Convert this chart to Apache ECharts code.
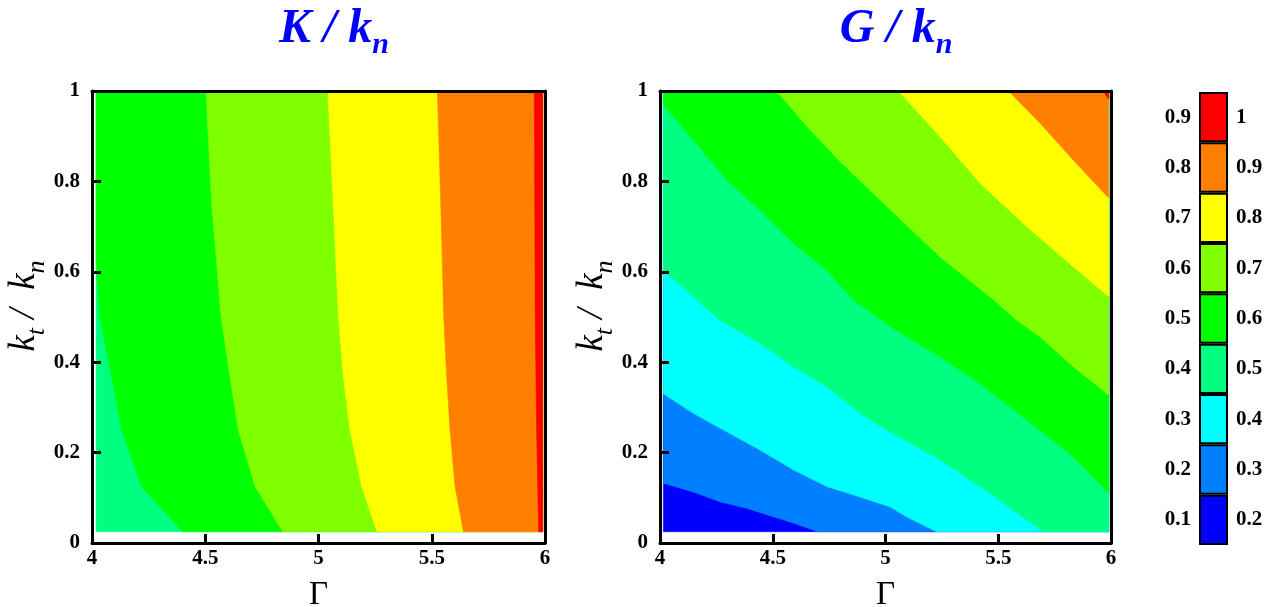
<!DOCTYPE html>
<html><head><meta charset="utf-8">
<script src="https://cdn.jsdelivr.net/npm/echarts@6/dist/echarts.min.js"></script>
<style>html,body{margin:0;padding:0;background:#fff}#c{width:1270px;height:607px}</style>
</head><body><div id="c"></div>
<script>
// ---- data ----
const levelLow = ['0.1','0.2','0.3','0.4','0.5','0.6','0.7','0.8','0.9'];
const levelHigh = ['0.2','0.3','0.4','0.5','0.6','0.7','0.8','0.9','1'];
const levelColors = ['#0000FF','#0080FF','#00FFFF','#00FF80','#00FF00','#80FF00','#FFFF00','#FF8000','#FF0000'];
const xTickRange = [4, 6, 0.5];
const yTickRange = [0, 1, 0.2];

// data extent of the contour field
const fieldK = {xMin: 4.018, xMax: 5.99, yMin: 0.025, yMax: 1};
const fieldG = {xMin: 4.015, xMax: 5.99, yMin: 0.025, yMax: 1};

// K/kn: lowest band index 3 (0.4-0.5); contour lines (level boundaries) as [Gamma, kt/kn]
const kBaseBand = 3;
const kLine05 = [[4.400,0.025],[4.219,0.125],[4.131,0.25],[4.087,0.368],[4.035,0.5],[4.018,0.62]];
const kLine06 = [[4.842,0.025],[4.720,0.125],[4.646,0.25],[4.609,0.368],[4.570,0.5],[4.528,0.752],[4.503,1]];
const kLine07 = [[5.258,0.025],[5.191,0.125],[5.139,0.25],[5.110,0.368],[5.088,0.5],[5.065,0.75],[5.041,1]];
const kLine08 = [[5.640,0.025],[5.603,0.125],[5.581,0.25],[5.566,0.368],[5.553,0.5],[5.540,0.75],[5.525,1]];
const kLine09 = [[5.972,0.025],[5.963,0.25],[5.957,0.5],[5.955,0.75],[5.953,1]];

// G/kn: lowest band index 0 (0.1-0.2)
const gBaseBand = 0;
const gLine02 = [[4.015,0.132],[4.148,0.113],[4.266,0.091],[4.384,0.077],[4.502,0.058],[4.591,0.044],[4.702,0.025]];
const gLine03 = [[4.015,0.330],[4.148,0.287],[4.296,0.246],[4.443,0.206],[4.591,0.162],[4.739,0.125],[4.887,0.102],[5.020,0.080],[5.094,0.058],[5.227,0.025]];
const gLine04 = [[4.015,0.604],[4.148,0.545],[4.266,0.493],[4.443,0.442],[4.591,0.390],[4.739,0.346],[4.887,0.287],[5.005,0.250],[5.242,0.184],[5.463,0.110],[5.700,0.025]];
const gLine05 = [[4.015,0.969],[4.148,0.892],[4.296,0.803],[4.443,0.737],[4.591,0.663],[4.739,0.604],[4.857,0.538],[5.020,0.479],[5.242,0.412],[5.419,0.353],[5.626,0.272],[5.833,0.191],[5.99,0.110]];
const gLine06 = [[4.517,1],[4.665,0.914],[4.798,0.844],[4.990,0.752],[5.242,0.633],[5.463,0.545],[5.582,0.493],[5.685,0.456],[5.833,0.390],[5.99,0.327]];
const gLine07 = [[5.057,1],[5.242,0.899],[5.419,0.796],[5.626,0.700],[5.833,0.611],[5.99,0.545]];
const gLine08 = [[5.545,1],[5.685,0.929],[5.833,0.847],[5.99,0.763]];
const gLine09 = [[5.965,1],[5.99,0.982]];

// ---- build filled regions (painter's order: base rect, then each level's high side) ----
function perimT(p, f) {
  const dx = f.xMax - f.xMin, dy = f.yMax - f.yMin;
  const d = [Math.abs(p[0]-f.xMin)/dx, Math.abs(p[1]-f.yMax)/dy, Math.abs(p[0]-f.xMax)/dx, Math.abs(p[1]-f.yMin)/dy];
  let k = d.indexOf(Math.min(...d));
  if (k === 0) return (p[1]-f.yMin)/dy;
  if (k === 1) return 1 + (p[0]-f.xMin)/dx;
  if (k === 2) return 2 + (f.yMax-p[1])/dy;
  return 3 + (f.xMax-p[0])/dx;
}
function mod4(v){ return ((v % 4) + 4) % 4; }
function highRegion(line, f) {
  const corners = [[f.xMin,f.yMin],[f.xMin,f.yMax],[f.xMax,f.yMax],[f.xMax,f.yMin]];
  const tS = perimT(line[0], f), tE = perimT(line[line.length-1], f);
  let list = [0,1,2,3].filter(k => mod4(k - tE) < mod4(tS - tE)).sort((a,b)=>mod4(a-tE)-mod4(b-tE));
  if (list.indexOf(2) < 0) {
    list = [0,1,2,3].filter(k => mod4(tE - k) < mod4(tE - tS)).sort((a,b)=>mod4(tE-a)-mod4(tE-b));
  }
  return line.concat(list.map(k => corners[k]));
}
function buildRegions(f, baseBand, lines) {
  const regs = [{pts: [[f.xMin,f.yMin],[f.xMin,f.yMax],[f.xMax,f.yMax],[f.xMax,f.yMin]], color: levelColors[baseBand]}];
  lines.forEach((ln, i) => regs.push({pts: highRegion(ln, f), color: levelColors[baseBand + 1 + i]}));
  return regs;
}
const regionsK = buildRegions(fieldK, kBaseBand, [kLine05, kLine06, kLine07, kLine08, kLine09]);
const regionsG = buildRegions(fieldG, gBaseBand, [gLine02, gLine03, gLine04, gLine05, gLine06, gLine07, gLine08, gLine09]);

function contourSeries(regs, xi, yi) {
  return {
    type: 'custom', xAxisIndex: xi, yAxisIndex: yi, z: 1, silent: true,
    data: regs.map((r, i) => [r.pts[0][0], r.pts[0][1], i]),
    renderItem: function (params, api) {
      const r = regs[params.dataIndex];
      return {type: 'polygon', shape: {points: r.pts.map(p => api.coord(p))},
              style: {fill: r.color, stroke: r.color, lineWidth: 0.6}};
    }
  };
}

// ---- styling ----
const serif = 'Liberation Serif';
const tickFont = {color: '#000', fontFamily: serif, fontWeight: 'bold', fontSize: 21};
const frameLine = {show: true, onZero: false, lineStyle: {color: '#000', width: 3}};
const yName = '{i|k}{s|t}{i| /  k}{s|n}';
const yNameStyle = {fontFamily: serif, color: '#000', padding: [0, 0, 0, 22],
  rich: {i: {fontFamily: serif, fontStyle: 'italic', fontSize: 37, lineHeight: 37, verticalAlign: 'top', color: '#000'},
         s: {fontFamily: serif, fontStyle: 'italic', fontSize: 26, lineHeight: 44, verticalAlign: 'bottom', color: '#000'}}};

function xAxes(g) {
  return [
    {gridIndex: g, type: 'value', min: xTickRange[0], max: xTickRange[1], interval: xTickRange[2], position: 'bottom', z: 5,
     axisLine: frameLine, axisTick: {inside: true, length: 9, lineStyle: {color: '#000', width: 3}},
     axisLabel: Object.assign({margin: 5, showMinLabel: true, showMaxLabel: true}, tickFont), splitLine: {show: false},
     name: 'Γ', nameLocation: 'middle', nameGap: 36, nameTextStyle: {fontFamily: serif, fontSize: 33, color: '#000'}},
    {gridIndex: g, type: 'value', min: xTickRange[0], max: xTickRange[1], position: 'top', z: 5,
     axisLine: frameLine, axisTick: {show: false}, axisLabel: {show: false}, splitLine: {show: false}}
  ];
}
function yAxes(g) {
  return [
    {gridIndex: g, type: 'value', min: yTickRange[0], max: yTickRange[1], interval: yTickRange[2], position: 'left', z: 5,
     axisLine: frameLine, axisTick: {inside: true, length: 9, lineStyle: {color: '#000', width: 3}},
     axisLabel: Object.assign({margin: 12, showMinLabel: true, showMaxLabel: true}, tickFont), splitLine: {show: false},
     name: yName, nameLocation: 'middle', nameGap: 41, nameTextStyle: yNameStyle},
    {gridIndex: g, type: 'value', min: yTickRange[0], max: yTickRange[1], position: 'right', z: 5,
     axisLine: frameLine, axisTick: {show: false}, axisLabel: {show: false}, splitLine: {show: false}}
  ];
}

const titleRich = {
  m: {fontFamily: serif, fontStyle: 'italic', fontWeight: 'bold', fontSize: 48, lineHeight: 48, verticalAlign: 'top', fill: '#0000FF', color: '#0000FF'},
  s: {fontFamily: serif, fontStyle: 'italic', fontWeight: 'bold', fontSize: 30, lineHeight: 54, verticalAlign: 'bottom', fill: '#0000FF', color: '#0000FF'}
};

const option = {
  backgroundColor: '#fff',
  animation: false,
  grid: [
    {left: 92, top: 91, width: 453, height: 452, outerBoundsMode: 'none', containLabel: false},
    {left: 660, top: 91, width: 451, height: 452, outerBoundsMode: 'none', containLabel: false},
    {left: 1199, top: 92, width: 29, height: 453, outerBoundsMode: 'none', containLabel: false}
  ],
  xAxis: xAxes(0).concat(xAxes(1), [{gridIndex: 2, type: 'value', min: 0, max: 1, show: false}]),
  yAxis: yAxes(0).concat(yAxes(1), [
    {gridIndex: 2, type: 'category', data: levelLow, position: 'left', axisLine: {show: false}, axisTick: {show: false},
     axisLabel: Object.assign({margin: 8}, tickFont)},
    {gridIndex: 2, type: 'category', data: levelHigh, position: 'right', axisLine: {show: false}, axisTick: {show: false},
     axisLabel: Object.assign({margin: 8}, tickFont)}
  ]),
  graphic: [
    {type: 'text', x: 334, y: 6, style: {text: '{m|K / k}{s|n}', rich: titleRich, align: 'center', verticalAlign: 'top'}},
    {type: 'text', x: 896, y: 6, style: {text: '{m|G / k}{s|n}', rich: titleRich, align: 'center', verticalAlign: 'top'}}
  ],
  series: [
    contourSeries(regionsK, 0, 0),
    contourSeries(regionsG, 2, 2),
    {type: 'bar', xAxisIndex: 4, yAxisIndex: 4, barWidth: '100%', silent: true,
     data: levelColors.map(c => ({value: 1, itemStyle: {color: c}})),
     itemStyle: {borderColor: '#000', borderWidth: 2}}
  ]
};
const chart = echarts.init(document.getElementById('c'), null, {renderer: 'canvas'});
chart.setOption(option);
</script></body></html>
